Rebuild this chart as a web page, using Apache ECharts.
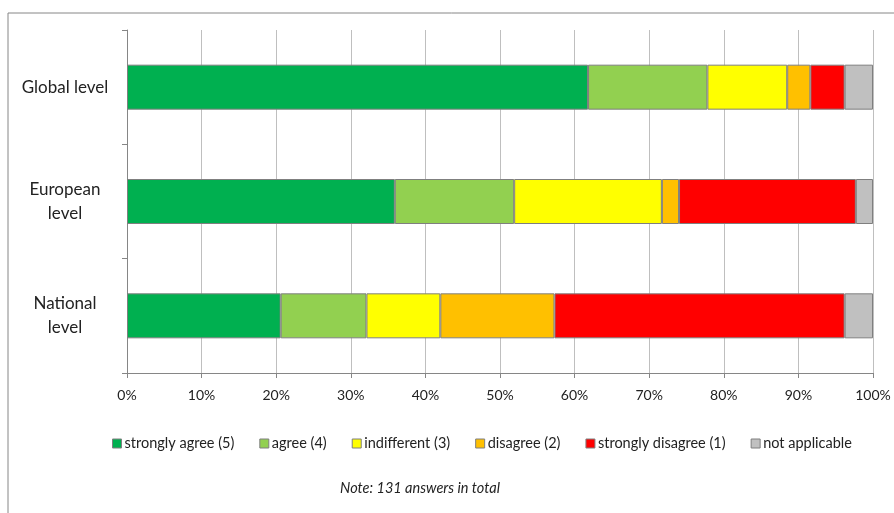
<!DOCTYPE html>
<html>
<head>
<meta charset="utf-8">
<script src="https://cdn.jsdelivr.net/npm/echarts@6/dist/echarts.min.js"></script>
<style>
  html, body { margin: 0; padding: 0; background: #fff; }
  #chart { width: 894px; height: 513px; }
</style>
</head>
<body>
<div id="chart"></div>
<script>
// Survey levels (top to bottom)
const levels = ['Global level', 'European\nlevel', 'National\nlevel'];

// Answer categories and their colours
const answers = ['strongly agree (5)', 'agree (4)', 'indifferent (3)', 'disagree (2)', 'strongly disagree (1)', 'not applicable'];
const answerColors = ['#00B050', '#92D050', '#FFFF00', '#FFC000', '#FF0000', '#C0C0C0'];

// Share of answers per level, in percent (Global, European, National)
const stronglyAgree    = [61.8, 35.9, 20.6];
const agree            = [16.0, 16.0, 11.5];
const indifferent      = [10.7, 19.8,  9.9];
const disagree         = [ 3.1,  2.3, 15.3];
const stronglyDisagree = [ 4.6, 23.7, 38.9];
const notApplicable    = [ 3.8,  2.3,  3.8];

// X axis tick labels
const xTicks = ['0%', '10%', '20%', '30%', '40%', '50%', '60%', '70%', '80%', '90%', '100%'];

const noteText = 'Note: 131 answers in total';

const seriesValues = [stronglyAgree, agree, indifferent, disagree, stronglyDisagree, notApplicable];
const fontFamily = 'Lato, "Open Sans", sans-serif';

const chart = echarts.init(document.getElementById('chart'));
chart.setOption({
  animation: false,
  backgroundColor: '#fff',
  textStyle: { fontFamily: fontFamily },
  grid: { left: 127, right: 21, top: 30, bottom: 140, containLabel: false },
  xAxis: {
    type: 'value',
    min: 0,
    max: 100,
    interval: 10,
    axisLine: { show: true, lineStyle: { color: '#868686', width: 1 } },
    axisTick: { show: true, length: 5, lineStyle: { color: '#868686' } },
    splitLine: { show: true, lineStyle: { color: '#bfbfbf', width: 1 } },
    axisLabel: {
      margin: 15,
      fontSize: 14,
      color: '#222',
      fontFamily: fontFamily,
      formatter: function (v) { return xTicks[Math.round(v / 10)]; }
    }
  },
  yAxis: {
    type: 'category',
    data: levels,
    inverse: true,
    axisLine: { show: true, lineStyle: { color: '#868686', width: 1 } },
    axisTick: { show: true, length: 5, alignWithLabel: false, lineStyle: { color: '#868686' } },
    splitLine: { show: false },
    axisLabel: {
      margin: 62,
      fontSize: 17,
      lineHeight: 24,
      color: '#222',
      align: 'center',
      fontFamily: fontFamily
    }
  },
  legend: {
    left: 107,
    top: 431,
    itemWidth: 9,
    itemHeight: 9,
    itemGap: 25,
    icon: 'rect',
    textStyle: { fontSize: 14.5, color: '#222', fontFamily: fontFamily, padding: [0, 0, 0, -2] },
    data: answers.map(function (name, i) {
      return { name: name, itemStyle: { color: answerColors[i], borderColor: '#7f7f7f', borderWidth: 1 } };
    })
  },
  graphic: [
    {
      type: 'rect',
      shape: { x: 8, y: 13, width: 920, height: 600 },
      style: { fill: 'none', stroke: '#868686', lineWidth: 1 },
      silent: true,
      z: -1
    },
    {
      type: 'text',
      x: 420,
      y: 488,
      style: {
        text: noteText,
        fontSize: 14.5,
        fontStyle: 'italic',
        fontFamily: fontFamily,
        fill: '#222',
        align: 'center',
        verticalAlign: 'middle'
      }
    }
  ],
  series: answers.map(function (name, i) {
    return {
      name: name,
      type: 'bar',
      stack: 'total',
      barWidth: 45,
      data: seriesValues[i],
      itemStyle: { color: answerColors[i], borderColor: '#7f7f7f', borderWidth: 1 }
    };
  })
});
</script>
</body>
</html>
